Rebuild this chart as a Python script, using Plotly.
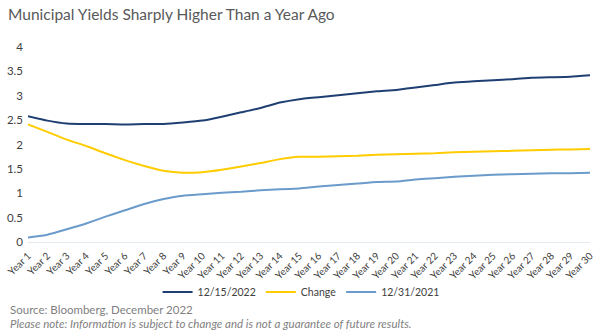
import plotly.graph_objects as go

years = [f"Year {i}" for i in range(1, 31)]

y2022 = [2.58, 2.49, 2.43, 2.42, 2.42, 2.41, 2.42, 2.42, 2.45, 2.49,
         2.57, 2.66, 2.75, 2.86, 2.93, 2.97, 3.01, 3.05, 3.09, 3.12,
         3.17, 3.22, 3.27, 3.30, 3.32, 3.34, 3.37, 3.38, 3.39, 3.42]
change = [2.41, 2.26, 2.10, 1.97, 1.82, 1.68, 1.56, 1.46, 1.42, 1.43,
          1.48, 1.55, 1.62, 1.70, 1.75, 1.75, 1.76, 1.77, 1.79, 1.80,
          1.81, 1.82, 1.84, 1.85, 1.86, 1.87, 1.88, 1.89, 1.90, 1.91]
y2021 = [0.09, 0.15, 0.26, 0.38, 0.52, 0.65, 0.78, 0.88, 0.95, 0.98,
         1.01, 1.03, 1.06, 1.08, 1.10, 1.14, 1.17, 1.20, 1.23, 1.24,
         1.28, 1.31, 1.34, 1.36, 1.38, 1.39, 1.40, 1.41, 1.41, 1.42]

series = [("12/15/2022", y2022, "#1F3F73"),
          ("Change", change, "#FFCC00"),
          ("12/31/2021", y2021, "#6A9BCB")]

fig = go.Figure()
for name, vals, col in series:
    fig.add_trace(go.Scatter(x=years, y=vals, name=name, mode="lines",
                             line=dict(color=col, width=2, shape="spline", smoothing=0.4)))

fig.update_layout(
    width=600, height=336,
    margin=dict(l=27, r=5, t=47, b=94),
    paper_bgcolor="white", plot_bgcolor="white",
    font=dict(family="Lato, Open Sans, sans-serif", color="#404040"),
    title=dict(text="Municipal Yields Sharply Higher Than a Year Ago",
               font=dict(size=15.5, color="#595959", family="Lato"),
               xref="container", x=8/600, xanchor="left",
               yref="container", y=1-15/336, yanchor="middle"),
    showlegend=True,
    legend=dict(orientation="h", xref="paper", x=(303-27)/568, xanchor="center",
                yref="paper", y=-50/195, yanchor="middle",
                font=dict(size=10.5, color="#404040"),
                itemwidth=30, tracegroupgap=0, bgcolor="rgba(0,0,0,0)"),
    xaxis=dict(type="category", range=[0, 29], tickangle=-45,
               tickfont=dict(size=10, color="#404040"),
               showgrid=False, showline=True, linecolor="#E3E9F0", linewidth=1,
               ticks="", zeroline=False, ticklabelstandoff=3),
    yaxis=dict(range=[0, 4], tickvals=[0, 0.5, 1, 1.5, 2, 2.5, 3, 3.5, 4],
               ticktext=["0", "0.5", "1", "1.5", "2", "2.5", "3", "3.5", "4"],
               tickfont=dict(size=11.5, color="#404040"),
               showgrid=False, zeroline=False, showline=False, ticks="",
               ticklabelstandoff=4),
    annotations=[
        dict(text="Source: Bloomberg, December 2022", xref="paper", yref="paper",
             x=0, xshift=-20, y=-67/195, xanchor="left", yanchor="middle",
             showarrow=False, font=dict(size=11.5, color="#7F7F7F")),
        dict(text="<i>Please note: Information is subject to change and is not a guarantee of future results.</i>",
             xref="paper", yref="paper",
             x=0, xshift=-20, y=-81/195, xanchor="left", yanchor="middle",
             showarrow=False, font=dict(size=11.5, color="#7F7F7F")),
    ],
)

fig.write_html("out.html")
